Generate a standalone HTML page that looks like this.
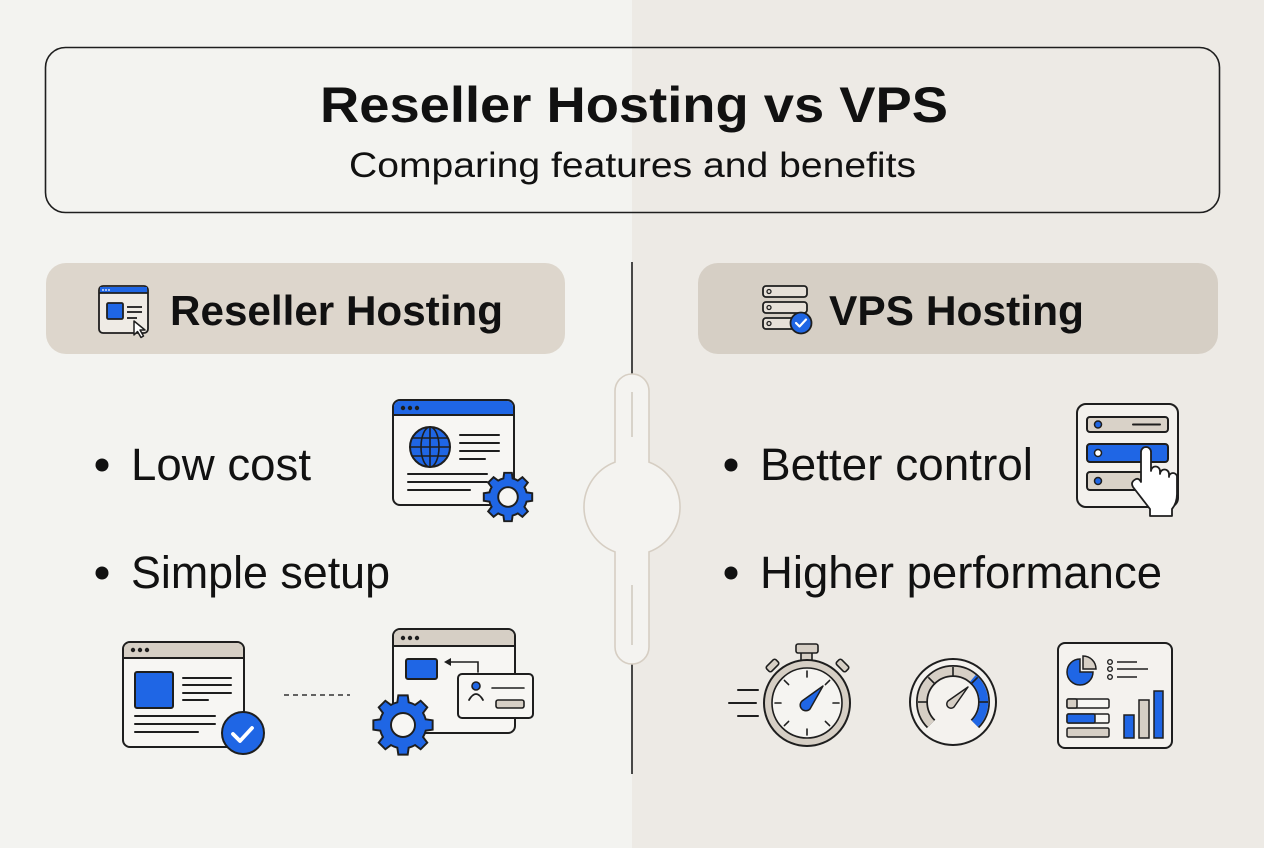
<!DOCTYPE html>
<html><head><meta charset="utf-8"><style>
html,body{margin:0;padding:0;width:1264px;height:848px;overflow:hidden;background:#f3f2ef;}
svg{display:block;}
text{font-family:"Liberation Sans",Arial,sans-serif;fill:#111;}
</style></head><body>
<svg width="1264" height="848" viewBox="0 0 1264 848" xmlns="http://www.w3.org/2000/svg">
<defs>
<path id="gear" d="M75.7,-18.9 L98.8,-15.6 L98.8,15.6 L75.7,18.9 A78,78 0 0 1 66.9,40.2 L80.9,58.8 L58.8,80.9 L40.2,66.9 A78,78 0 0 1 18.9,75.7 L15.6,98.8 L-15.6,98.8 L-18.9,75.7 A78,78 0 0 1 -40.2,66.9 L-58.8,80.9 L-80.9,58.8 L-66.9,40.2 A78,78 0 0 1 -75.7,18.9 L-98.8,15.6 L-98.8,-15.6 L-75.7,-18.9 A78,78 0 0 1 -66.9,-40.2 L-80.9,-58.8 L-58.8,-80.9 L-40.2,-66.9 A78,78 0 0 1 -18.9,-75.7 L-15.6,-98.8 L15.6,-98.8 L18.9,-75.7 A78,78 0 0 1 40.2,-66.9 L58.8,-80.9 L80.9,-58.8 L66.9,-40.2 A78,78 0 0 1 75.7,-18.9 Z"/>
</defs>
<!-- backgrounds -->
<rect x="0" y="0" width="632" height="848" fill="#f3f3f0"/>
<rect x="632" y="0" width="632" height="848" fill="#edeae5"/>

<!-- title box -->
<rect x="45.5" y="47.5" width="1174" height="165" rx="20" fill="none" stroke="#1e1e1e" stroke-width="1.6"/>
<text x="320" y="122" font-size="50" font-weight="bold" textLength="628" lengthAdjust="spacingAndGlyphs">Reseller Hosting vs VPS</text>
<text x="349" y="177" font-size="35" textLength="567" lengthAdjust="spacingAndGlyphs">Comparing features and benefits</text>

<!-- header pills -->
<rect x="46" y="263" width="519" height="91" rx="20" fill="#ddd6cc"/>
<rect x="698" y="263" width="520" height="91" rx="20" fill="#d6cfc5"/>
<text x="170" y="325" font-size="42" font-weight="bold" textLength="333" lengthAdjust="spacingAndGlyphs">Reseller Hosting</text>
<text x="829" y="325" font-size="42" font-weight="bold" textLength="255" lengthAdjust="spacingAndGlyphs">VPS Hosting</text>

<!-- reseller header icon -->
<g stroke="#1e1e1e" stroke-width="1.8" stroke-linejoin="round">
  <rect x="99" y="286" width="49" height="47" rx="4" fill="#efebe5"/>
  <rect x="100" y="287" width="47" height="6" fill="#1f66e5" stroke="none"/>
  <line x1="99" y1="293" x2="148" y2="293"/>
  <rect x="107" y="303" width="16" height="16" rx="1.5" fill="#1f66e5"/>
  <line x1="127" y1="307" x2="142" y2="307"/>
  <line x1="127" y1="312" x2="142" y2="312"/>
  <line x1="127" y1="318" x2="137" y2="318"/>
  <polygon points="134,321 134,335 137.5,331.5 141,337.5 143.5,336 140,330 145,330" fill="#fff" stroke-width="1.5"/>
</g>
<g fill="#fff"><circle cx="103" cy="290" r="0.9"/><circle cx="106" cy="290" r="0.9"/><circle cx="109" cy="290" r="0.9"/></g>

<!-- vps header icon -->
<g stroke="#1e1e1e" stroke-width="1.8">
  <rect x="763" y="286" width="44" height="11" rx="3" fill="#e6e0d8"/>
  <rect x="763" y="302" width="44" height="11" rx="3" fill="#e6e0d8"/>
  <rect x="763" y="318" width="38" height="11" rx="3" fill="#e6e0d8"/>
  <circle cx="769" cy="291.5" r="2" fill="none" stroke-width="1.3"/>
  <circle cx="769" cy="307.5" r="2" fill="none" stroke-width="1.3"/>
  <circle cx="769" cy="323.5" r="2" fill="none" stroke-width="1.3"/>
  <circle cx="801" cy="323" r="10.5" fill="#1f66e5"/>
  <path d="M796,323 l3.5,3.5 l6.5,-7" fill="none" stroke="#fff" stroke-width="2.2" stroke-linecap="round" stroke-linejoin="round"/>
</g>

<!-- divider & slider -->
<line x1="632" y1="262" x2="632" y2="376" stroke="#1e1e1e" stroke-width="1.6"/>
<line x1="632" y1="662" x2="632" y2="774" stroke="#1e1e1e" stroke-width="1.6"/>
<path d="M615,391 A17,17 0 0 1 649,391 L649,462.1 A48,48 0 0 1 649,551.9 L649,647 A17,17 0 0 1 615,647 L615,551.9 A48,48 0 0 1 615,462.1 Z" fill="#f4f3f0" stroke="#d6cec3" stroke-width="1.6"/>
<line x1="632" y1="392" x2="632" y2="437" stroke="#cfc8be" stroke-width="1.5"/>
<line x1="632" y1="585" x2="632" y2="645" stroke="#cfc8be" stroke-width="1.5"/>

<!-- bullets -->
<circle cx="102" cy="465" r="6.5" fill="#111"/>
<circle cx="102" cy="573" r="6.5" fill="#111"/>
<circle cx="731" cy="465" r="6.5" fill="#111"/>
<circle cx="731" cy="573" r="6.5" fill="#111"/>
<text x="131" y="480" font-size="45" textLength="180" lengthAdjust="spacingAndGlyphs">Low cost</text>
<text x="131" y="588" font-size="45" textLength="259" lengthAdjust="spacingAndGlyphs">Simple setup</text>
<text x="760" y="480" font-size="45" textLength="273" lengthAdjust="spacingAndGlyphs">Better control</text>
<text x="760" y="588" font-size="45" textLength="402" lengthAdjust="spacingAndGlyphs">Higher performance</text>

<!-- low cost icon -->
<g stroke="#1e1e1e" stroke-width="2" stroke-linecap="round">
  <rect x="393" y="400" width="121" height="105" rx="7" fill="#f7f6f3"/>
  <path d="M394,414 L394,407 a6,6 0 0 1 6,-6 L507,401 a6,6 0 0 1 6,6 L513,414 Z" fill="#1f66e5" stroke="none"/>
  <line x1="393" y1="415" x2="514" y2="415"/>
  <circle cx="430" cy="447" r="20" fill="#1f66e5"/>
  <ellipse cx="430" cy="447" rx="9" ry="20" fill="none" stroke-width="1.6"/>
  <line x1="430" y1="427" x2="430" y2="467" stroke-width="1.6"/>
  <line x1="410" y1="447" x2="450" y2="447" stroke-width="1.6"/>
  <line x1="412" y1="438" x2="448" y2="438" stroke-width="1.6"/>
  <line x1="412" y1="456" x2="448" y2="456" stroke-width="1.6"/>
  <line x1="460" y1="435" x2="499" y2="435"/>
  <line x1="460" y1="443" x2="499" y2="443"/>
  <line x1="460" y1="451" x2="499" y2="451"/>
  <line x1="460" y1="459" x2="485" y2="459"/>
  <line x1="408" y1="474" x2="487" y2="474"/>
  <line x1="408" y1="482" x2="487" y2="482"/>
  <line x1="408" y1="490" x2="470" y2="490"/>
</g>
<g fill="#1e1e1e"><circle cx="403" cy="408" r="2.2"/><circle cx="410" cy="408" r="2.2"/><circle cx="417" cy="408" r="2.2"/></g>
<g transform="translate(508,497) scale(0.245)">
  <use href="#gear" fill="#1f66e5" stroke="#1e1e1e" stroke-width="8"/>
  <circle cx="0" cy="0" r="40" fill="#f7f6f3" stroke="#1e1e1e" stroke-width="8"/>
</g>

<!-- simple setup left window -->
<g stroke="#1e1e1e" stroke-width="2" stroke-linecap="round">
  <rect x="123" y="642" width="121" height="105" rx="7" fill="#f7f6f3"/>
  <path d="M124,657 L124,649 a6,6 0 0 1 6,-6 L237,643 a6,6 0 0 1 6,6 L243,657 Z" fill="#d6cfc5" stroke="none"/>
  <line x1="123" y1="658" x2="244" y2="658"/>
  <rect x="135" y="672" width="38" height="36" rx="2" fill="#1f66e5"/>
  <line x1="183" y1="678" x2="231" y2="678"/>
  <line x1="183" y1="685" x2="231" y2="685"/>
  <line x1="183" y1="693" x2="231" y2="693"/>
  <line x1="183" y1="700" x2="208" y2="700"/>
  <line x1="135" y1="716" x2="215" y2="716"/>
  <line x1="135" y1="724" x2="215" y2="724"/>
  <line x1="135" y1="732" x2="198" y2="732"/>
  <circle cx="243" cy="733" r="21" fill="#1f66e5"/>
  <path d="M233,734 l7,7 l12,-13" fill="none" stroke="#fff" stroke-width="3.8" stroke-linejoin="round"/>
</g>
<g fill="#1e1e1e"><circle cx="133" cy="650" r="2.2"/><circle cx="140" cy="650" r="2.2"/><circle cx="147" cy="650" r="2.2"/></g>
<line x1="284" y1="695" x2="350" y2="695" stroke="#333" stroke-width="1.6" stroke-dasharray="5,4"/>

<!-- simple setup right window -->
<g stroke="#1e1e1e" stroke-width="2" stroke-linecap="round">
  <rect x="393" y="629" width="122" height="104" rx="7" fill="#f7f6f3"/>
  <path d="M394,645 L394,636 a6,6 0 0 1 6,-6 L508,630 a6,6 0 0 1 6,6 L514,645 Z" fill="#d6cfc5" stroke="none"/>
  <line x1="393" y1="646" x2="515" y2="646"/>
  <rect x="406" y="659" width="31" height="20" rx="2" fill="#1f66e5"/>
  <path d="M478,672 L478,662 L450,662" fill="none" stroke-width="1.6"/>
  <rect x="458" y="674" width="75" height="44" rx="4" fill="#f7f6f3"/>
  <circle cx="476" cy="686" r="4" fill="#1f66e5" stroke-width="1.6"/>
  <path d="M469,700 q7,-12 14,0" fill="none" stroke-width="1.8"/>
  <line x1="492" y1="688" x2="524" y2="688" stroke-width="1.6"/>
  <rect x="496" y="700" width="28" height="8" rx="2" fill="#d6cfc5" stroke-width="1.6"/>
</g>
<polygon points="444,662 451,658 451,666" fill="#1e1e1e"/>
<g fill="#1e1e1e"><circle cx="403" cy="638" r="2.2"/><circle cx="410" cy="638" r="2.2"/><circle cx="417" cy="638" r="2.2"/></g>
<g transform="translate(403,725) scale(0.3)">
  <use href="#gear" fill="#1f66e5" stroke="#1e1e1e" stroke-width="6.5"/>
  <circle cx="0" cy="0" r="40" fill="#f7f6f3" stroke="#1e1e1e" stroke-width="6.5"/>
</g>

<!-- better control icon -->
<g stroke="#1e1e1e" stroke-width="2" stroke-linecap="round">
  <rect x="1077" y="404" width="101" height="103" rx="9" fill="#f3f1ed"/>
  <rect x="1087" y="417" width="81" height="15" rx="3" fill="#d9d2c8"/>
  <rect x="1087" y="444" width="81" height="18" rx="3" fill="#1f66e5"/>
  <rect x="1087" y="472" width="81" height="18" rx="3" fill="#d9d2c8"/>
  <circle cx="1098" cy="424.5" r="3.5" fill="#1f66e5" stroke-width="1.5"/>
  <circle cx="1098" cy="453" r="3.5" fill="#fff" stroke-width="1.5"/>
  <circle cx="1098" cy="481" r="3.5" fill="#1f66e5" stroke-width="1.5"/>
  <line x1="1133" y1="424.5" x2="1160" y2="424.5"/>
  <path d="M1141,482 L1141,452 a5,5 0 0 1 10,0 L1151,471 a4.5,4.5 0 0 1 9,0 L1160,474 a4.5,4.5 0 0 1 9,0 L1169,477 a4,4 0 0 1 8,0 L1177,494 q0,9 -5,15 L1172,516 L1150,516 L1150,509 L1133,487 q-3,-5 3,-8 q3,-1 5,3 Z" fill="#fff" stroke-width="1.8" stroke-linejoin="round"/>
</g>

<!-- stopwatch -->
<g stroke="#1e1e1e" stroke-width="2" stroke-linecap="round">
  <line x1="738" y1="690" x2="758" y2="690"/>
  <line x1="729" y1="703" x2="756" y2="703"/>
  <line x1="738" y1="716" x2="758" y2="716"/>
  <rect x="801" y="651" width="11" height="11" fill="#d6cfc5" stroke-width="1.6"/>
  <rect x="796" y="644" width="22" height="9" rx="2" fill="#d6cfc5" stroke-width="1.6"/>
  <rect x="766" y="662" width="13" height="7" rx="2" fill="#d6cfc5" stroke-width="1.6" transform="rotate(-45 772.5 665.5)"/>
  <rect x="836" y="662" width="13" height="7" rx="2" fill="#d6cfc5" stroke-width="1.6" transform="rotate(45 842.5 665.5)"/>
  <circle cx="807" cy="703" r="43" fill="#d6cfc5"/>
  <circle cx="807" cy="703" r="35" fill="#f5f4f1" stroke-width="1.6"/>
  <g stroke-width="1.6">
    <line x1="807" y1="671" x2="807" y2="677"/>
    <line x1="807" y1="729" x2="807" y2="735"/>
    <line x1="775" y1="703" x2="781" y2="703"/>
    <line x1="833" y1="703" x2="839" y2="703"/>
    <line x1="784.4" y1="680.4" x2="788.6" y2="684.6"/>
    <line x1="829.6" y1="680.4" x2="825.4" y2="684.6"/>
    <line x1="784.4" y1="725.6" x2="788.6" y2="721.4"/>
    <line x1="829.6" y1="725.6" x2="825.4" y2="721.4"/>
  </g>
  <path d="M802,701 L823,686 L810,709 A5.66,5.66 0 1 1 802,701 Z" fill="#1f66e5" stroke-width="1.5" stroke-linejoin="round"/>
</g>

<!-- gauge -->
<g stroke-linecap="butt">
  <circle cx="953" cy="702" r="43" fill="#f4f2ee" stroke="#1e1e1e" stroke-width="2"/>
  <path d="M931.1,723.9 A31,31 0 1 1 974.9,723.9" fill="none" stroke="#1e1e1e" stroke-width="12"/>
  <path d="M931.1,723.9 A31,31 0 1 1 974.9,723.9" fill="none" stroke="#d6cfc5" stroke-width="8.5"/>
  <path d="M972.9,678.3 A31,31 0 0 1 974.9,723.9" fill="none" stroke="#1f66e5" stroke-width="8.5"/>
  <g stroke="#1e1e1e" stroke-width="1.6">
    <line x1="953" y1="667" x2="953" y2="677"/>
    <line x1="928.3" y1="677.3" x2="935.3" y2="684.3"/>
    <line x1="977.7" y1="677.3" x2="970.7" y2="684.3"/>
    <line x1="918" y1="702" x2="928" y2="702"/>
    <line x1="988" y1="702" x2="978" y2="702"/>
  </g>
  <path d="M948,701 L968,687 L954,707 A4.24,4.24 0 1 1 948,701 Z" fill="#d6cfc5" stroke="#1e1e1e" stroke-width="1.5" stroke-linejoin="round"/>
</g>

<!-- dashboard -->
<g stroke="#1e1e1e" stroke-width="2">
  <rect x="1058" y="643" width="114" height="105" rx="7" fill="#f4f2ee"/>
  <path d="M1080,672 L1080,659 A13,13 0 1 0 1093,672 Z" fill="#1f66e5" stroke-width="1.5"/>
  <path d="M1083,669 L1083,656 A13,13 0 0 1 1096,669 Z" fill="#d6cfc5" stroke-width="1.5"/>
  <circle cx="1110" cy="662" r="2.3" fill="none" stroke-width="1.4"/>
  <circle cx="1110" cy="669" r="2.3" fill="none" stroke-width="1.4"/>
  <circle cx="1110" cy="677" r="2.3" fill="none" stroke-width="1.4"/>
  <line x1="1117" y1="662" x2="1137" y2="662" stroke-width="1.6"/>
  <line x1="1117" y1="669" x2="1148" y2="669" stroke-width="1.6"/>
  <line x1="1117" y1="677" x2="1137" y2="677" stroke-width="1.6"/>
  <rect x="1067" y="699" width="42" height="9" rx="1.5" fill="#f7f6f3" stroke-width="1.5"/>
  <rect x="1067" y="699" width="10" height="9" rx="1.5" fill="#d6cfc5" stroke-width="1.5"/>
  <rect x="1067" y="714" width="42" height="9" rx="1.5" fill="#f7f6f3" stroke-width="1.5"/>
  <rect x="1067" y="714" width="28" height="9" rx="1.5" fill="#1f66e5" stroke-width="1.5"/>
  <rect x="1067" y="728" width="42" height="9" rx="1.5" fill="#d6cfc5" stroke-width="1.5"/>
  <rect x="1124" y="715" width="10" height="23" fill="#1f66e5" stroke-width="1.5"/>
  <rect x="1139" y="700" width="10" height="38" fill="#d6cfc5" stroke-width="1.5"/>
  <rect x="1154" y="691" width="9" height="47" fill="#1f66e5" stroke-width="1.5"/>
</g>
</svg>
</body></html>
